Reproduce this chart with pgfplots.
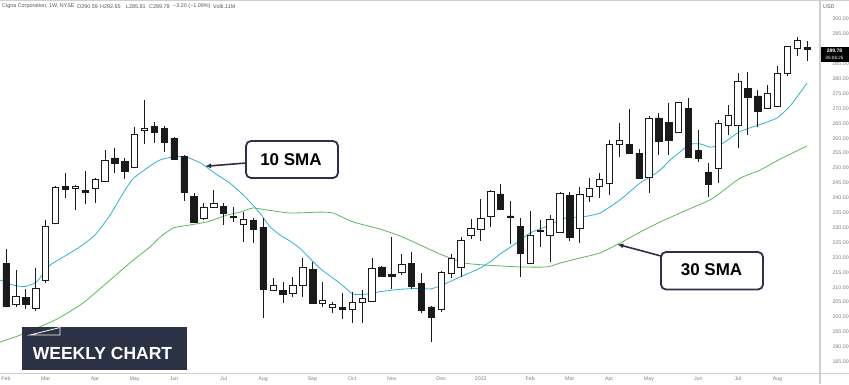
\documentclass[border=0pt]{standalone}
\usepackage{pgfplots}
\pgfplotsset{compat=1.18}
\usepackage{pgfplotstable}
\usepackage{fontspec}
\setmainfont{Liberation Sans}
\usetikzlibrary{arrows.meta}
\definecolor{cyanl}{HTML}{2BB3D2}
\definecolor{greenl}{HTML}{5CB85C}
\definecolor{navy}{HTML}{2B3245}
\definecolor{axgray}{HTML}{CFCFCF}
\definecolor{txtgray}{HTML}{808080}
\definecolor{hdrgray}{HTML}{555555}
\definecolor{candle}{HTML}{1A1A1A}

\pgfplotstableread{
i o h l c
0 218.1 222.8 203.2 203.7
1 204.4 215.8 203.4 207.0
2 206.7 209.4 202.7 204.4
3 203.0 216.4 202.0 209.7
4 212.4 232.6 211.4 230.5
5 231.5 243.9 231.2 243.6
6 243.7 248.3 240.0 243.0
7 243.2 244.3 236.0 244.0
8 242.4 249.0 238.0 241.8
9 243.3 246.5 238.3 246.3
10 245.6 256.0 245.4 252.7
11 253.4 256.7 248.3 251.7
12 252.3 253.4 246.3 249.0
13 250.3 263.8 250.1 261.4
14 262.6 272.8 258.0 263.4
15 264.1 265.4 258.4 262.1
16 263.4 264.0 255.4 258.7
17 260.0 260.4 252.8 253.0
18 254.0 254.4 239.0 242.0
19 240.6 241.6 231.5 231.9
20 233.2 238.3 232.5 236.9
21 236.9 242.6 236.7 238.3
22 237.2 238.3 230.9 234.9
23 233.3 236.9 231.9 233.9
24 231.2 235.2 225.2 232.9
25 232.5 233.2 224.8 229.5
26 230.2 233.2 199.7 209.4
27 209.1 213.0 209.0 210.7
28 209.0 211.7 204.7 207.7
29 208.0 213.4 206.7 210.7
30 210.7 219.8 206.7 216.8
31 216.1 218.5 204.5 204.7
32 204.7 211.7 203.4 205.7
33 203.4 205.0 201.3 204.4
34 203.3 208.0 199.3 202.7
35 202.7 208.4 198.0 205.0
36 205.0 209.0 198.0 206.4
37 205.4 219.8 205.2 216.4
38 216.8 217.0 213.6 213.8
39 214.4 226.8 209.4 213.8
40 215.1 221.1 214.1 217.8
41 218.1 221.8 209.4 210.4
42 211.4 214.8 201.3 202.3
43 203.4 203.6 191.6 200.0
44 202.7 215.3 201.7 215.1
45 214.8 221.1 213.0 219.8
46 216.8 226.8 213.4 225.8
47 227.5 232.9 226.2 229.9
48 229.5 239.6 225.5 233.2
49 233.9 242.5 230.2 242.3
50 241.3 244.6 236.0 236.2
51 233.9 238.9 224.5 233.3
52 230.5 233.2 213.4 221.5
53 218.1 235.6 217.9 227.5
54 228.6 232.6 223.5 229.2
55 227.5 234.2 218.5 232.9
56 228.5 242.0 228.3 241.6
57 240.9 242.0 225.5 226.8
58 229.9 243.6 224.8 241.3
59 240.6 246.6 238.6 243.3
60 243.9 248.3 240.0 246.3
61 245.0 259.4 241.0 258.0
62 258.0 265.1 253.7 259.2
63 258.0 269.8 254.8 255.0
64 255.0 256.4 246.4 246.6
65 247.0 267.4 241.6 266.8
66 266.8 268.5 254.4 259.0
67 265.4 271.8 254.4 259.4
68 262.1 272.3 261.9 272.1
69 270.0 273.5 253.5 253.7
70 256.0 262.8 252.0 253.4
71 248.7 251.7 240.3 244.6
72 250.0 266.0 245.0 265.1
73 264.4 271.1 261.1 267.8
74 264.4 281.9 256.7 279.2
75 276.8 282.2 261.1 273.8
76 274.2 276.2 263.8 269.1
77 270.1 277.9 269.9 275.2
78 270.8 284.2 270.6 281.9
79 281.9 291.1 280.9 290.9
80 290.3 294.0 287.6 292.9
81 290.59 292.65 285.81 289.78
}\candles

\pgfplotstableread{
x y
-0.61 212.4
0.74 210.7
1.92 210.2
3.10 211.8
4.45 217.4
6.14 220.8
7.48 223.6
9.00 227.5
10.52 234.2
12.03 242.6
12.87 246.5
14.56 250.7
15.57 252.7
16.92 253.8
18.10 253.8
19.62 251.8
21.13 248.2
22.65 244.9
24.17 240.4
25.68 234.8
26.69 230.3
27.70 227.5
28.72 225.5
29.73 223.0
31.75 216.3
33.77 211.3
35.09 207.7
36.50 207.7
37.82 208.5
39.84 209.3
41.86 209.6
42.87 209.4
43.88 210.4
45.91 213.4
47.93 216.4
48.94 218.5
49.95 221.1
51.47 224.5
52.98 228.2
54.50 230.2
56.02 232.6
57.03 233.6
58.04 233.4
60.06 234.9
62.08 239.3
64.11 245.0
65.12 247.0
66.13 249.3
67.14 252.7
68.15 255.4
69.16 258.0
70.18 258.1
71.18 257.0
72.19 257.7
73.21 260.0
74.22 262.3
76.24 264.6
77.96 266.8
79.27 270.8
80.99 278.5
}\smaten

\pgfplotstableread{
x y
-0.61 191.6
1.42 193.9
5.16 199.3
7.79 204.7
10.52 212.4
12.87 219.1
14.56 223.5
15.57 226.8
16.92 229.9
18.60 230.9
20.32 231.9
22.35 234.2
23.66 235.2
24.97 236.6
26.39 235.9
28.72 234.9
31.75 235.2
33.06 234.9
35.09 231.9
37.82 229.5
39.84 227.2
41.86 224.2
43.88 221.1
46.41 218.1
48.63 217.4
51.97 216.8
54.70 216.8
56.02 218.1
58.04 219.8
60.06 221.5
62.08 224.8
64.11 228.5
66.13 231.9
68.15 234.9
71.18 239.3
72.19 241.6
74.22 246.6
76.24 249.3
78.26 253.0
80.99 257.4
}\smathirty

\pgfplotsset{candleax/.style={
  width=820pt, height=373pt, scale only axis,
  xmin=-0.607, xmax=82.3, ymin=181.2, ymax=306.4,
  at={(0pt,11pt)}, anchor=south west, clip=true}}

\begin{document}
\begin{tikzpicture}
\useasboundingbox (0,0) rectangle (849pt,384pt);
\begin{axis}[candleax,
  axis line style={draw=none},
  major tick length=0pt,
  xtick={0,4,9,13,17,22,26,31,35,39,44,48,53,57,61,65,70,74,78},
  xticklabels={Feb,Mar,Apr,May,Jun,Jul,Aug,Sep,Oct,Nov,Dec,2022,Feb,Mar,Apr,May,Jun,Jul,Aug},
  ytick={185,190,195,200,205,210,215,220,225,230,235,240,245,250,255,260,265,270,275,280,285,295,300},
  yticklabel pos=right,
  xtick pos=bottom,
  ticklabel style={font=\fontsize{5.3}{6}\selectfont, text=txtgray},
  yticklabel style={anchor=west, xshift=9pt, /pgf/number format/.cd, fixed, fixed zerofill, precision=2, assume math mode=true},
  xticklabel style={yshift=-0.5pt},
  scaled y ticks=false,
]
\addplot[greenl, line width=0.8pt, smooth, tension=0.3, mark=none] table[x=x,y=y] {\smathirty};
\addplot[cyanl, line width=0.8pt, smooth, tension=0.3, mark=none] table[x=x,y=y] {\smaten};
\addplot[draw=none, mark=none, error bars/.cd, y dir=plus, y explicit, error mark=none,
  error bar style={draw=candle, solid, line width=0.7pt}]
  table[x=i, y=l, y error plus expr=\thisrow{h}-\thisrow{l}] {\candles};
\end{axis}
\begin{axis}[candleax, hide axis, ybar stacked, bar width=6.4pt]
\addplot[draw=none, fill=none] table[x=i, y expr={min(\thisrow{o},\thisrow{c})}] {\candles};
\addplot[draw=candle, fill=white, line width=0.6pt] table[x=i, y expr={max(\thisrow{c}-\thisrow{o},0)}] {\candles};
\addplot[draw=candle, fill=candle, line width=0.6pt] table[x=i, y expr={max(\thisrow{o}-\thisrow{c},0)}] {\candles};
\end{axis}
\begin{scope}[x=1pt, y=-1pt, yshift=384pt]
  % frame lines
  \draw[axgray, line width=0.8pt] (0,0.5) -- (849,0.5);
  \draw[axgray, line width=1pt] (0,373) -- (849,373);
  \draw[axgray, line width=1.2pt] (820,0) -- (820,384);
  % header
  \begin{scope}[every node/.style={anchor=west, inner sep=0pt, font=\fontsize{5.4}{6}\selectfont, text=hdrgray}]
    \node at (2,6.5) {Cigna Corporation, 1W, NYSE};
    \node at (77,6.5) {O290.59};
    \node at (100,6.5) {H292.65};
    \node at (126,6.5) {L285.81};
    \node at (149,6.5) {C289.78};
    \node at (173,6.5) {−3.20 (−1.09\%)};
    \node at (213,6.5) {Vol6.11M};
    \node at (823,6.5) {USD};
  \end{scope}
  % price tag
  \fill[black] (820.6,46.5) rectangle (849,62);
  \node[inner sep=0pt, text=white, font=\fontsize{5}{5}\selectfont\bfseries] at (834.5,50.5) {289.78};
  \node[inner sep=0pt, text=white, font=\fontsize{4.6}{5}\selectfont] at (834.5,57.8) {05:06:25};
  % 10 SMA
  \draw[navy, line width=1.6pt, -{Latex[length=6pt,width=5pt]}] (246,163) -- (205,166.3);
  \draw[navy, line width=1.8pt, rounded corners=5pt, fill=white] (246,141) rectangle (338,178);
  \node[anchor=base, inner sep=0pt, font=\fontsize{17}{17}\selectfont\bfseries, text=black] at (291,165.5) {10 SMA};
  % 30 SMA
  \draw[navy, line width=1.6pt, -{Latex[length=6pt,width=5pt]}] (661,256) -- (617.3,244.3);
  \draw[navy, line width=1.8pt, rounded corners=5pt, fill=white] (661,252) rectangle (763,289.5);
  \node[anchor=base, inner sep=0pt, font=\fontsize{17}{17}\selectfont\bfseries, text=black] at (711.5,275.7) {30 SMA};
  % weekly chart banner
  \fill[navy] (22,327) rectangle (187,370);
  \draw[white, line width=0.8pt] (30,335) -- (60,327.5) -- (60,335) -- cycle;
  \node[anchor=base, inner sep=0pt, font=\fontsize{17.5}{17.5}\selectfont\bfseries, text=white] at (102.5,359.3) {WEEKLY CHART};
\end{scope}
\end{tikzpicture}
\end{document}
